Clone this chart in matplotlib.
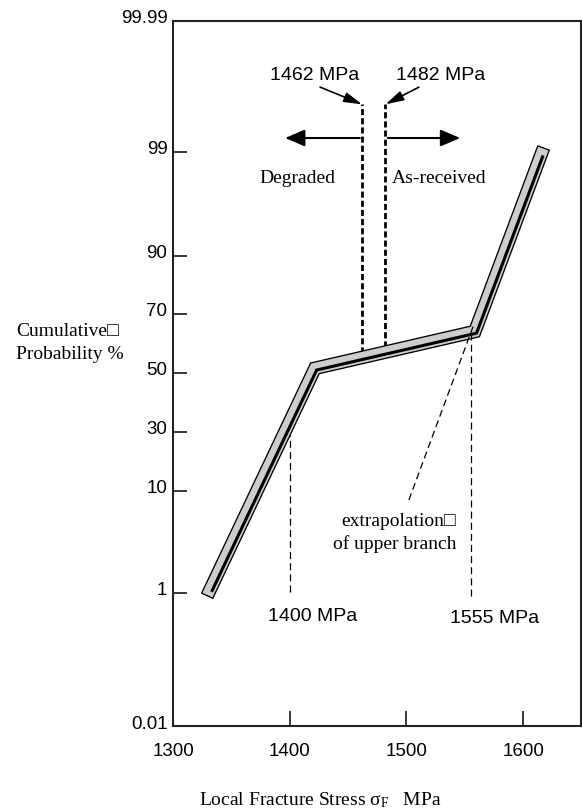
import numpy as np
import matplotlib
matplotlib.use("Agg")
import matplotlib.pyplot as plt
import matplotlib.patheffects as pe
import matplotlib.transforms as mtransforms
from matplotlib.patches import ArrowStyle

plt.rcParams['mathtext.fontset'] = 'custom'
plt.rcParams['mathtext.rm'] = 'Liberation Serif'
plt.rcParams['mathtext.it'] = 'Liberation Serif:italic'

SANS = ['Liberation Sans', 'DejaVu Sans']
SERIF = ['Liberation Serif', 'DejaVu Sans']

# fracture stress distribution (MPa vs cumulative probability %)
stress = [1333, 1423, 1560, 1617]
prob = [1.1, 51.0, 63.5, 98.7]

# probability axis: tick values and the hand-ruled spacing between them
prob_ticks = [0.01, 1, 10, 30, 50, 70, 90, 99, 99.99]
prob_tick_labels = ['0.01', '1', '10', '30', '50', '70', '90', '99', '99.99']
prob_ruling = [0, 133, 235, 294, 353, 412, 470, 574, 705]

stress_ticks = [1300, 1400, 1500, 1600]

# transition stresses (degraded / as-received)
degraded_stress = 1462
received_stress = 1482
threshold_top = 99.36
threshold_bottom = [56.8, 58.9]

# knee stresses marked down to the lower part of the chart
knee_stress = [1400, 1555]
knee_top = [29.0, 64.5]
knee_bottom = [1.1, 0.98]

# dashed extrapolation of the upper branch
extrap_stress = [1502, 1557]
extrap_prob = [9.2, 65.7]


def prob_fwd(p):
    return np.interp(p, prob_ticks, prob_ruling)


def prob_inv(r):
    return np.interp(r, prob_ruling, prob_ticks)


fig = plt.figure(figsize=(5.82, 8.10), dpi=100)
ax = fig.add_axes([0.2973, 0.1037, 0.7010, 0.8704])
ax.set_yscale('function', functions=(prob_fwd, prob_inv))
ax.set_xlim(1300, 1649.5)
ax.set_ylim(0.01, 99.99)

for s in ax.spines.values():
    s.set_linewidth(1.5)
    s.set_color('#222222')

ax.set_xticks(stress_ticks)
ax.set_xticklabels([str(t) for t in stress_ticks], family=SANS, fontsize=13.5)
ax.set_yticks(prob_ticks)
ax.set_yticklabels(prob_tick_labels, family=SANS, fontsize=13.5)
ax.tick_params(axis='x', direction='in', length=11, width=1.1, pad=12)
ax.tick_params(axis='y', direction='in', length=10, width=1.1, pad=4)
# raise the probability labels slightly above their ticks
lift = mtransforms.ScaledTranslation(0, 0.04, fig.dpi_scale_trans)
for lbl in ax.get_yticklabels():
    lbl.set_transform(lbl.get_transform() + lift)

# vertical thresholds (thick dashes)
for xs, yb in zip([degraded_stress, received_stress], threshold_bottom):
    ax.plot([xs, xs], [yb, threshold_top], color='black', lw=2.0,
            linestyle=(0, (2.2, 1.1)), zorder=2)

# the distribution: shaded band with the fitted line along its lower edge
band_shift = mtransforms.ScaledTranslation(-0.017, 0.017, fig.dpi_scale_trans)
ax.plot(stress, prob, color='#cdcdcd', lw=7.9, solid_capstyle='projecting',
        solid_joinstyle='miter', transform=ax.transData + band_shift, zorder=3,
        path_effects=[pe.Stroke(linewidth=9.8, foreground='black',
                                capstyle='projecting', joinstyle='miter'),
                      pe.Normal()])
ax.plot(stress, prob, color='black', lw=2.2, solid_capstyle='butt',
        solid_joinstyle='miter', zorder=4)

# knee reference lines and extrapolation
for xs, yt, yb in zip(knee_stress, knee_top, knee_bottom):
    ax.plot([xs, xs], [yb, yt], color='black', lw=0.9,
            linestyle=(0, (5.6, 3.3)), zorder=5)
ax.plot(extrap_stress, extrap_prob, color='black', lw=0.9,
        linestyle=(0, (5.6, 3.3)), zorder=5)

# labels with pointers to the threshold lines
small_head = ArrowStyle('-|>', head_length=0.55, head_width=0.15)
ax.annotate('1462 MPa', xy=(degraded_stress, threshold_top),
            xytext=(0.348, 0.923), textcoords='axes fraction',
            ha='center', va='center', fontsize=14, family=SANS,
            arrowprops=dict(arrowstyle=small_head, mutation_scale=20, lw=1.2,
                            color='black', shrinkA=1, shrinkB=0,
                            relpos=(0.41, 0.12)))
ax.annotate('1482 MPa', xy=(received_stress, threshold_top),
            xytext=(0.657, 0.923), textcoords='axes fraction',
            ha='center', va='center', fontsize=14, family=SANS,
            arrowprops=dict(arrowstyle=small_head, mutation_scale=20, lw=1.2,
                            color='black', shrinkA=1, shrinkB=0,
                            relpos=(0.37, 0.12)))

big_head = ArrowStyle('-|>', head_length=0.4, head_width=0.17)
ax.annotate('', xy=(1396, 0.834), xycoords=('data', 'axes fraction'),
            xytext=(degraded_stress - 2, 0.834), textcoords=('data', 'axes fraction'),
            arrowprops=dict(arrowstyle=big_head, mutation_scale=30, lw=1.5,
                            color='black', shrinkA=0, shrinkB=0))
ax.annotate('', xy=(1546, 0.834), xycoords=('data', 'axes fraction'),
            xytext=(received_stress + 2, 0.834), textcoords=('data', 'axes fraction'),
            arrowprops=dict(arrowstyle=big_head, mutation_scale=30, lw=1.5,
                            color='black', shrinkA=0, shrinkB=0))

ax.text(0.306, 0.777, 'Degraded', transform=ax.transAxes, ha='center',
        va='center', fontsize=14, family=SERIF)
ax.text(0.652, 0.777, 'As-received', transform=ax.transAxes, ha='center',
        va='center', fontsize=14, family=SERIF)
ax.text(0.342, 0.156, '1400 MPa', transform=ax.transAxes, ha='center',
        va='center', fontsize=14, family=SANS)
ax.text(0.789, 0.152, '1555 MPa', transform=ax.transAxes, ha='center',
        va='center', fontsize=14, family=SANS)
ax.text(0.694, 0.274, 'extrapolation\u25a1\nof upper branch', transform=ax.transAxes,
        ha='right', va='center', multialignment='right', fontsize=14,
        family=SERIF, linespacing=1.4)

fig.text(16 / 582, 1 - 343 / 810, 'Cumulative\u25a1\nProbability %', ha='left',
         va='center', fontsize=14, family=SERIF, linespacing=1.45)
fig.text(320 / 582, 1 - 800 / 810,
         r'Local Fracture Stress $\mathrm{\sigma_F}$   MPa', ha='center',
         va='center', fontsize=14, family=SERIF)

fig.savefig('out.png', dpi=100)
